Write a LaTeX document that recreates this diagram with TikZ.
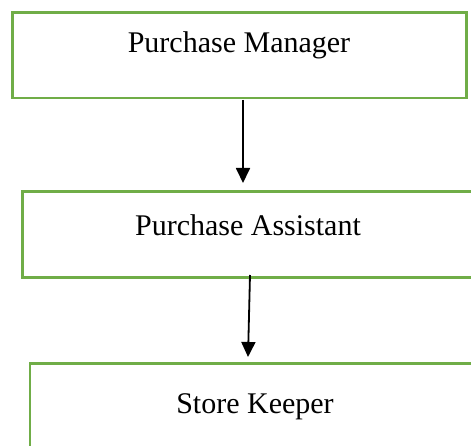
\documentclass[tikz,border=0pt]{standalone}
\usepackage{fontspec}
\setmainfont{Liberation Serif}
\usetikzlibrary{arrows.meta,calc}
\definecolor{boxgreen}{HTML}{70AD47}
\tikzset{
  roleframe/.style={draw=boxgreen, line width=2.8pt, rectangle, anchor=north west, inner sep=0pt, outer sep=0pt},
  rolename/.style={font=\fontsize{30}{36}\selectfont, inner sep=0pt},
  flow/.style={draw=black, line width=1.8pt, -{Triangle[length=15pt,width=14pt]}}
}
\begin{document}
\begin{tikzpicture}[x=1pt,y=-1pt]
  \useasboundingbox (0,0) rectangle (471,446);
  \begin{scope}
    \clip (0,0) rectangle (471,446);
    % frames of the three roles
    \node[roleframe, minimum width=454pt, minimum height=85.5pt] (pm) at (12.5,12.5) {};
    \node[roleframe, minimum width=470pt, minimum height=86pt] (pa) at (22.3,191.7) {};
    \node[roleframe, minimum width=470pt, minimum height=100pt] (sk) at (30,363.3) {};
    % role names
    \node[rolename] (pmtext) at (239,45) {Purchase Manager};
    \node[rolename] (patext) at (248,225) {Purchase Assistant};
    \node[rolename] (sktext) at (255,407) {Store Keeper};
    % reporting lines
    \coordinate (a1s) at ($(pm.south)+(3.5,2)$);
    \coordinate (a1e) at ($(pa.north west)+(220.7,-8.7)$);
    \coordinate (a2s) at ($(pa.south west)+(227.7,-2.7)$);
    \coordinate (a2e) at ($(sk.north west)+(218,-6.3)$);
    \draw[flow] (a1s) -- (a1e);
    \draw[flow] (a2s) -- (a2e);
  \end{scope}
\end{tikzpicture}
\end{document}
